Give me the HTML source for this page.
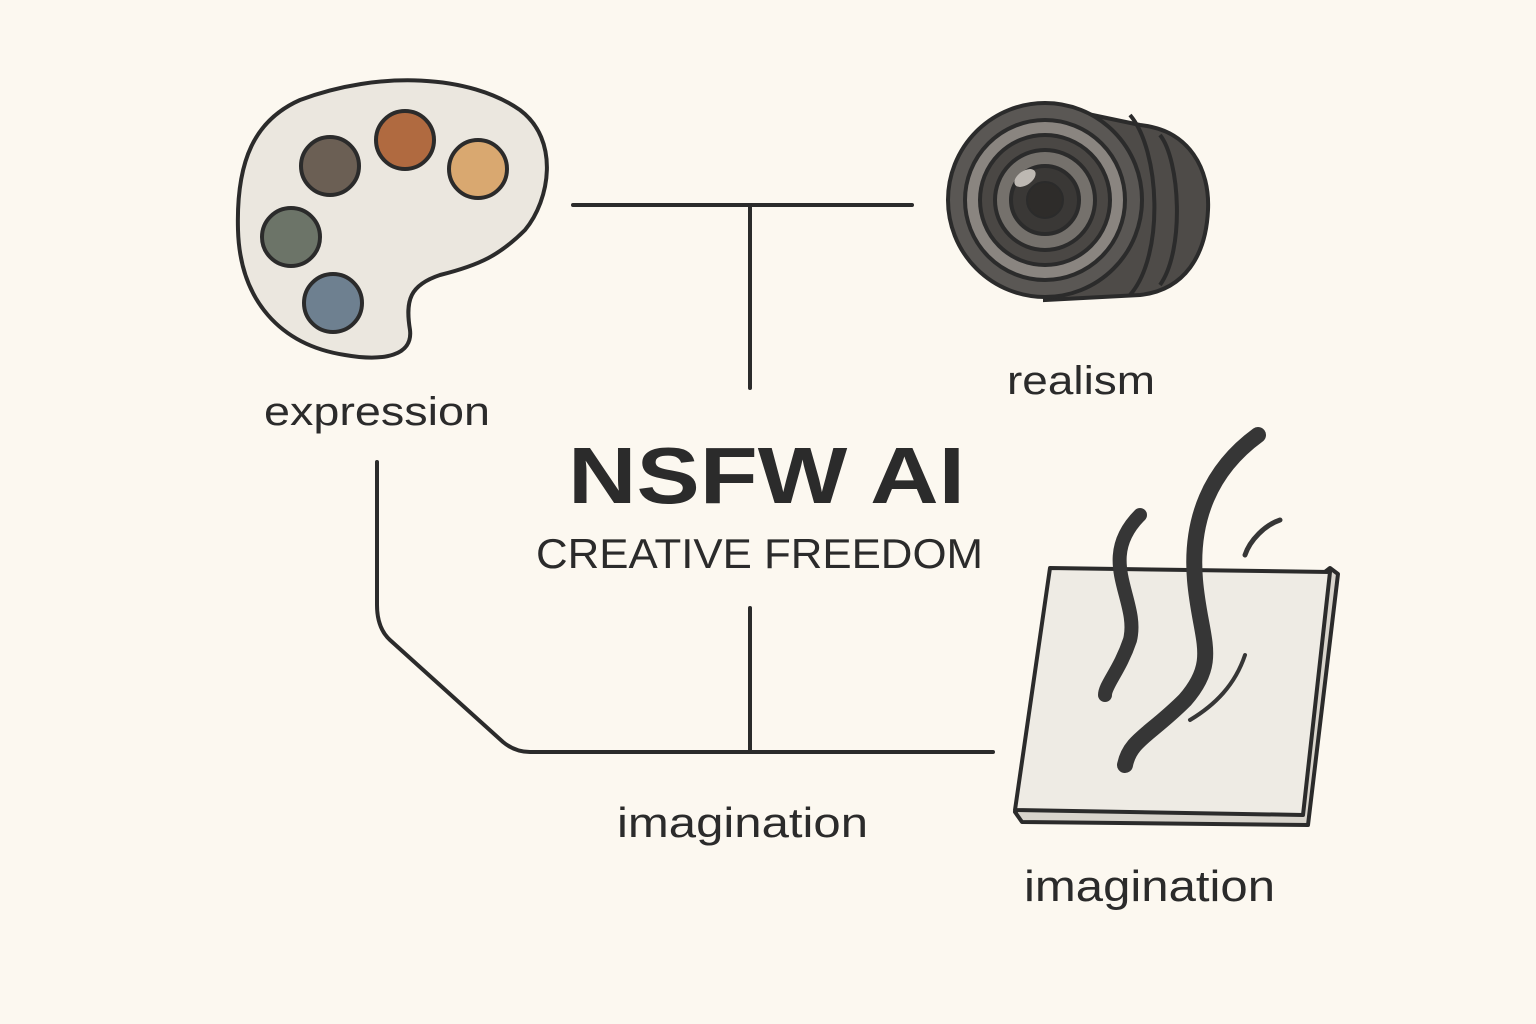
<!DOCTYPE html>
<html><head><meta charset="utf-8"><style>
html,body{margin:0;padding:0;background:#fcf8f0;}
svg{display:block}
</style></head><body>
<svg width="1536" height="1024" viewBox="0 0 1536 1024" xmlns="http://www.w3.org/2000/svg">
<rect width="1536" height="1024" fill="#fcf8f0"/>
<g stroke="#2b2b2b" stroke-width="4" fill="none" stroke-linecap="round">
<path d="M573 205 H912"/>
<path d="M750 205 V388"/>
<path d="M750 608 V752"/>
<path d="M993 752 H530 Q515 752 503 742 L390 640 Q377 628 377 605 V462"/>
</g>
<!-- palette -->
<path d="M300 100 C380 70 470 75 520 110 C560 140 550 200 525 230 C500 255 480 265 440 275 C410 285 405 300 410 330 C413 355 385 362 345 355 C280 345 240 300 238 230 C236 160 255 120 300 100 Z" fill="#ebe7df" stroke="#2b2b2b" stroke-width="4"/>
<g stroke="#2b2b2b" stroke-width="4">
<circle cx="330" cy="166" r="29" fill="#6b5f54"/>
<circle cx="405" cy="140" r="29" fill="#b06a40"/>
<circle cx="478" cy="169" r="29" fill="#d9a870"/>
<circle cx="291" cy="237" r="29" fill="#6c7468"/>
<circle cx="333" cy="303" r="29" fill="#6e8090"/>
</g>
<!-- camera lens -->
<g stroke="#2b2b2b" stroke-width="4">
<path d="M1045 105 L1140 125 C1190 130 1210 170 1208 210 C1206 255 1185 290 1140 295 L1045 300 Z" fill="#4e4b48"/>
<path d="M1160 135 C1180 160 1185 250 1160 285" fill="none" stroke="#2b2b2b"/>
<path d="M1130 115 C1160 150 1165 255 1130 295" fill="none" stroke="#2b2b2b"/>
<circle cx="1045" cy="200" r="97" fill="#5a5754"/>
<circle cx="1045" cy="200" r="80" fill="#8a8580"/>
<circle cx="1045" cy="200" r="65" fill="#4a4744"/>
<circle cx="1045" cy="200" r="50" fill="#75716c"/>
<circle cx="1045" cy="200" r="34" fill="#3a3836"/>
<circle cx="1045" cy="200" r="18" fill="#2e2c2a" stroke-width="2"/>
</g>
<ellipse cx="1025" cy="178" rx="12" ry="7" fill="#bdb8b2" transform="rotate(-35 1025 178)"/>
<!-- paper -->
<g stroke="#2b2b2b" stroke-width="4" stroke-linejoin="round">
<path d="M1330 568 L1338 574 L1308 825 L1022 822 L1015 812 Z" fill="#d8d4cc"/>
<path d="M1050 568 L1330 572 L1303 815 L1015 810 Z" fill="#eeebe4"/>
</g>
<g fill="none" stroke="#363636" stroke-linecap="round">
<path d="M1140 515 C1095 560 1140 600 1130 640 C1120 670 1105 685 1105 695" stroke-width="14"/>
<path d="M1258 435 C1210 470 1190 520 1195 580 C1200 640 1220 660 1185 700 C1150 735 1130 740 1125 765" stroke-width="16"/>
<path d="M1280 520 C1265 525 1250 540 1245 555" stroke-width="5"/>
<path d="M1245 655 C1235 685 1215 705 1190 720" stroke-width="4"/>
</g>
<g font-family="Liberation Sans, sans-serif" fill="#2b2b2b">
<text x="264" y="425" font-size="40" textLength="226" lengthAdjust="spacingAndGlyphs">expression</text>
<text x="1007" y="394" font-size="40" textLength="148" lengthAdjust="spacingAndGlyphs">realism</text>
<text x="568" y="503" font-size="80" font-weight="bold" textLength="397" lengthAdjust="spacingAndGlyphs">NSFW AI</text>
<text x="536" y="568" font-size="42" textLength="447" lengthAdjust="spacingAndGlyphs">CREATIVE FREEDOM</text>
<text x="617" y="837" font-size="42" textLength="251" lengthAdjust="spacingAndGlyphs">imagination</text>
<text x="1024" y="901" font-size="44" textLength="251" lengthAdjust="spacingAndGlyphs">imagination</text>
</g>
</svg>
</body></html>
